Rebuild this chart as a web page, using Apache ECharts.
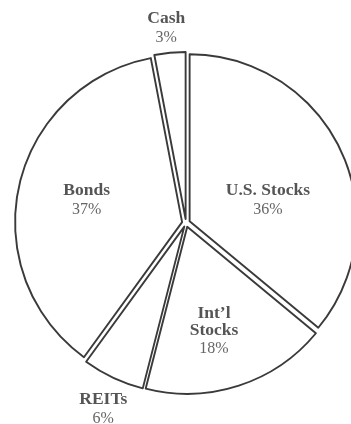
<!DOCTYPE html>
<html>
<head>
<meta charset="utf-8">
<style>
  html, body { margin: 0; padding: 0; background: #fff; }
  #chart { width: 351px; height: 424px; }
</style>
<script src="https://cdn.jsdelivr.net/npm/echarts@6/dist/echarts.min.js"></script>
</head>
<body>
<div id="chart"></div>
<script>
// asset mix, clockwise from 12 o'clock
let names = ["U.S. Stocks", "Int\u2019l\nStocks", "REITs", "Bonds", "Cash"];
let shares = [36, 18, 6, 37, 3];
let outsideLabels = ["REITs", "Cash"];

// small nudges for the labels (dx, dy)
let nudges = [[0, 17], [0, 23], [7, 7], [-11, -2], [4, 4]];

let chart = echarts.init(document.getElementById("chart"), null, { renderer: "canvas" });

let data = names.map(function (n, i) {
    let outside = outsideLabels.indexOf(n) >= 0;
    return {
        name: n,
        value: shares[i],
        selected: true,
        label: { position: outside ? "outside" : "inside" },
        labelLine: { show: false, length: outside ? 28 : 0, length2: 0 }
    };
});

let option = {
    backgroundColor: "#fff",
    animation: false,
    series: [{
        type: "pie",
        center: [186, 223],
        radius: 167,
        startAngle: 90,
        clockwise: true,
        selectedMode: "multiple",
        selectedOffset: 4,
        avoidLabelOverlap: false,
        itemStyle: {
            color: "#fff",
            borderColor: "#3a3a3a",
            borderWidth: 1.9
        },
        emphasis: { disabled: true },
        select: { disabled: false, itemStyle: { color: "#fff", borderColor: "#3a3a3a", borderWidth: 1.9 } },
        label: {
            formatter: "{n|{b}}\n{p|{c}%}",
            rich: {
                n: { fontFamily: "Liberation Serif", fontWeight: "bold", fontSize: 17.5, color: "#555", lineHeight: 17, align: "center" },
                p: { fontFamily: "Liberation Serif", fontSize: 16, color: "#666", lineHeight: 21, align: "center" }
            }
        },
        labelLayout: function (params) {
            let d = nudges[params.dataIndex];
            return { dx: d[0], dy: d[1], align: "center" };
        },
        data: data
    }]
};

chart.setOption(option);
window.addEventListener("resize", chart.resize);
</script>
</body>
</html>
